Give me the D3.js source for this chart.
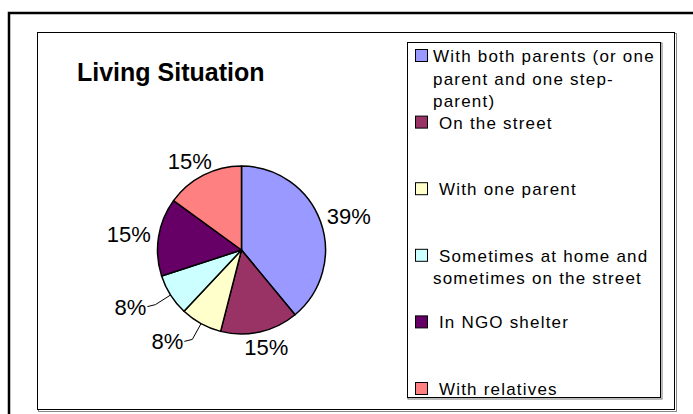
<!DOCTYPE html>
<html>
<head>
<meta charset="utf-8">
<script src="https://cdn.jsdelivr.net/npm/d3@7"></script>
<style>
    html, body { margin: 0; padding: 0; background: #fff; }
    svg { display: block; font-family: Arial, "Liberation Sans", sans-serif; }
</style>
</head>
<body>
<svg id="d3-svg" width="693" height="414"></svg>
<script>
// --- DATA ---
const title = "Living Situation";
const categories = [
    "With both parents (or one parent and one step-parent)",
    "On the street",
    "With one parent",
    "Sometimes at home and sometimes on the street",
    "In NGO shelter",
    "With relatives"
];
const values = [39, 15, 8, 8, 15, 15];   // percent of respondents
// legend text as it is wrapped in the picture
const legendLines = [
    ["With both parents (or one", "parent and one step-", "parent)"],
    [" On the street"],
    [" With one parent"],
    [" Sometimes at home and", "sometimes on the street"],
    [" In NGO shelter"],
    [" With relatives"]
];

const SLICE_COLORS = ["#9999ff", "#993366", "#ffffcc", "#ccffff", "#660066", "#ff8080"];

function renderPie() {
    const svg = d3.select("#d3-svg");
    svg.selectAll("*").remove();

    // chart frames
    svg.append("rect")       // outer chart area, runs off the page right/bottom
        .attr("x", 9).attr("y", 13).attr("width", 700).attr("height", 420)
        .attr("fill", "none").attr("stroke", "#000").attr("stroke-width", 2.5);
    svg.append("rect")       // shadow of the plot area
        .attr("x", 38.5).attr("y", 33.5).attr("width", 638).attr("height", 378)
        .attr("fill", "none").attr("stroke", "#888").attr("stroke-width", 1);
    svg.append("rect")
        .attr("x", 37.5).attr("y", 32.5).attr("width", 637).attr("height", 377)
        .attr("fill", "#fff").attr("stroke", "#000").attr("stroke-width", 1);

    svg.append("text")
        .attr("x", 77).attr("y", 81)
        .attr("font-size", 25).attr("font-weight", "bold")
        .text(title);

    // --- PIE ---
    const cx = 241.5, cy = 250, R = 84;
    const total = d3.sum(values);
    const pie = d3.pie().sort(null).value(d => d)(values);
    const arc = d3.arc().innerRadius(0).outerRadius(R);

    const g = svg.append("g").attr("transform", `translate(${cx},${cy})`);
    g.selectAll("path")
        .data(pie)
        .join("path")
            .attr("d", arc)
            .attr("fill", (d, i) => SLICE_COLORS[i])
            .attr("stroke", "#000")
            .attr("stroke-width", 1.5)
            .attr("stroke-linejoin", "round");

    // labels: outside end, small slices get a leader line
    const fmt = d => `${Math.round(d.value / total * 100)}%`;
    const labelSize = 22;
    pie.forEach(d => {
        const a = (d.startAngle + d.endAngle) / 2;
        const sx = Math.sin(a), sy = -Math.cos(a);
        const txt = fmt(d);
        const t = g.append("text").attr("font-size", labelSize).text(txt);
        const w = t.node().getComputedTextLength();
        const h = labelSize * 0.72;
        if (d.value / total < 0.1) {
            const e = [R * sx, R * sy];
            const k = [(R + 18) * sx, (R + 18) * sy];
            const end = [k[0] - 8, k[1] + 2];
            g.append("path")
                .attr("d", `M${e}L${k}L${end}`)
                .attr("fill", "none").attr("stroke", "#000").attr("stroke-width", 1);
            t.attr("x", end[0] - 1 - w).attr("y", end[1] + h / 2);
        } else {
            const p = [(R + 8) * sx, (R + 8) * sy];
            const c = [p[0] + sx * w / 2, p[1] + sy * h / 2];
            t.attr("x", c[0] - w / 2).attr("y", c[1] + h / 2);
        }
    });

    // --- LEGEND ---
    svg.append("rect")
        .attr("x", 408).attr("y", 43).attr("width", 254).attr("height", 356)
        .attr("fill", "none").attr("stroke", "#777").attr("stroke-width", 1);
    svg.append("rect")
        .attr("x", 407.5).attr("y", 42.5).attr("width", 253).attr("height", 355)
        .attr("fill", "#fff").attr("stroke", "#000").attr("stroke-width", 1);

    const row = d3.scalePoint().domain(categories).range([49, 382]);
    const item = svg.append("g").selectAll("g")
        .data(categories)
        .join("g")
            .attr("transform", c => `translate(0,${row(c)})`);
    item.append("rect")
        .attr("x", 415.5).attr("y", 0.5).attr("width", 12).attr("height", 12)
        .attr("fill", (c, i) => SLICE_COLORS[i])
        .attr("stroke", "#000").attr("stroke-width", 1);
    item.append("text")
        .attr("font-size", 17)
        .attr("letter-spacing", 1.2)
        .style("white-space", "pre")
        .selectAll("tspan")
        .data((c, i) => legendLines[i])
        .join("tspan")
            .attr("x", 433)
            .attr("y", (_, j) => 13 + j * 22.5)
            .text(s => s);

    return svg.node();
}

renderPie();
</script>
</body>
</html>
